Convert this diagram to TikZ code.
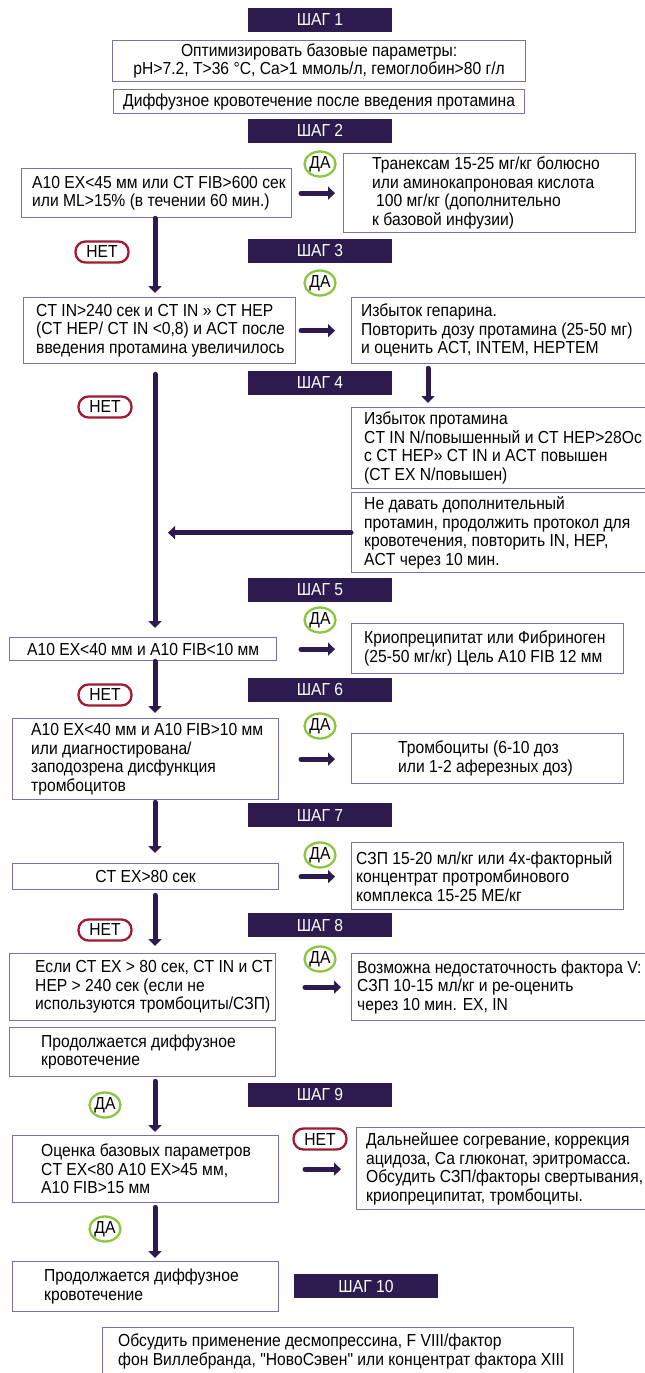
\documentclass[tikz,border=0pt]{standalone}
\usepackage{fontspec}
\newfontfamily\shrift[FakeStretch=0.9]{Liberation Sans}
\usepackage{xcolor}
\usetikzlibrary{arrows.meta,shapes.geometric}

\definecolor{shag}{HTML}{2D1B50}
\definecolor{ramka}{HTML}{7D6FAE}
\definecolor{zel}{HTML}{8CC540}
\definecolor{kras}{HTML}{A21A31}

\begin{document}
\begin{tikzpicture}[x=1pt, y=-1pt,
    every node/.append style={font=\shrift\fontsize{17.4}{18.5}\selectfont},
    shagbox/.style={fill=shag, text=white, minimum width=144pt, minimum height=24pt, inner sep=0pt},
    blok/.style 2 args={draw=ramka, line width=1.3pt, anchor=north west, minimum width=#1pt, minimum height=#2pt, inner sep=0pt, align=center},
    tekst/.style={anchor=west, xshift=#1pt, align=left, inner sep=0pt},
    da/.style={ellipse, draw=zel, line width=2.3pt, minimum width=31pt, minimum height=25pt, inner sep=0pt},
    net/.style={draw=kras, line width=2.3pt, rounded corners=10pt, minimum width=53pt, minimum height=21pt, inner sep=0pt},
    strelka/.style={draw=shag, line width=5pt, line cap=round, -{Triangle[width=13pt,length=7pt]}}]

    \useasboundingbox (0,0) rectangle (645,1373);
    \fill[white] (0,0) rectangle (645,1373);

    % шаги
    \node (shag1) [shagbox] at (320,19.5) {ШАГ 1};
    \node (shag2) [shagbox] at (320,130.5) {ШАГ 2};
    \node (shag3) [shagbox] at (320,251) {ШАГ 3};
    \node (shag4) [shagbox] at (320,382.5) {ШАГ 4};
    \node (shag5) [shagbox] at (320,589.5) {ШАГ 5};
    \node (shag6) [shagbox] at (320,690) {ШАГ 6};
    \node (shag7) [shagbox] at (320,815) {ШАГ 7};
    \node (shag8) [shagbox] at (320,925) {ШАГ 8};
    \node (shag9) [shagbox] at (320,1094.5) {ШАГ 9};
    \node (shag10) [shagbox] at (366,1286) {ШАГ 10};

    % шаг 1
    \node (opt) [blok={413}{41}] at (112,40) {Оптимизировать базовые параметры:\\pH>7.2, T>36 °C, Ca>1 ммоль/л, гемоглобин>80 г/л};
    \node (diff) [blok={411}{24}] at (113,89) {Диффузное кровотечение после введения протамина};

    % шаг 2
    \node (s2q) [blok={270}{49}] at (21,168) {};
    \node (s2q-t) [tekst=11] at (s2q.west) {A10 EX<45 мм или CT FIB>600 сек\\или ML>15\% (в течении 60 мин.)};
    \node (s2a) [blok={292}{79}] at (343,153) {};
    \node (s2a-t) [tekst=29] at (s2a.west) {Транексам 15-25 мг/кг болюсно\\или аминокапроновая кислота\\\hspace*{4pt}100 мг/кг (дополнительно\\к базовой инфузии)};

    % шаг 3
    \node (s3q) [blok={272}{66}] at (23,297) {};
    \node (s3q-t) [tekst=13] at (s3q.west) {CT IN>240 сек и CT IN » CT HEP\\(CT HEP/ CT IN <0,8) и ACT после\\введения протамина увеличилось};
    \node (s3a) [blok={297}{66}] at (351,297) {};
    \node (s3a-t) [tekst=10] at (s3a.west) {Избыток гепарина.\\Повторить дозу протамина (25-50 мг)\\и оценить ACT, INTEM, HEPTEM};

    % шаг 4
    \node (s4a) [blok={297}{81}] at (351,407) {};
    \node (s4a-t) [tekst=13] at (s4a.west) {Избыток протамина\\CT IN N/повышенный и CT HEP>28Oс\\с CT HEP» CT IN и ACT повышен\\(CT EX N/повышен)};
    \node (s4b) [blok={297}{80}] at (351,492) {};
    \node (s4b-t) [tekst=13] at (s4b.west) {Не давать дополнительный\\протамин, продолжить протокол для\\кровотечения, повторить IN, HEP,\\ACT через 10 мин.};

    % шаг 5
    \node (s5q) [blok={267}{23}] at (9,637) {A10 EX<40 мм и A10 FIB<10 мм};
    \node (s5a) [blok={272}{50}] at (351,623) {};
    \node (s5a-t) [tekst=13] at (s5a.west) {Криопреципитат или Фибриноген\\(25-50 мг/кг) Цель A10 FIB 12 мм};

    % шаг 6
    \node (s6q) [blok={266}{81}] at (12,718) {};
    \node (s6q-t) [tekst=19] at (s6q.west) {A10 EX<40 мм и A10 FIB>10 мм\\или диагностирована/\\заподозрена дисфункция\\тромбоцитов};
    \node (s6a) [blok={272}{50}] at (351,733) {};
    \node (s6a-t) [tekst=47] at (s6a.west) {Тромбоциты (6-10 доз\\или 1-2 аферезных доз)};

    % шаг 7
    \node (s7q) [blok={266}{26}] at (12,863) {CT EX>80 сек};
    \node (s7a) [blok={272}{67}] at (351,842) {};
    \node (s7a-t) [tekst=5] at (s7a.west) {СЗП 15-20 мл/кг или 4х-факторный\\концентрат протромбинового\\комплекса 15-25 МЕ/кг};

    % шаг 8
    \node (s8q) [blok={266}{67}] at (9,953) {};
    \node (s8q-t) [tekst=26] at (s8q.west) {Если CT EX > 80 сек, CT IN и CT\\HEP > 240 сек (если не\\используются тромбоциты/СЗП)};
    \node (s8a) [blok={297}{67}] at (351,953) {};
    \node (s8a-t) [tekst=6] at (s8a.west) {Возможна недостаточность фактора V:\\СЗП 10-15 мл/кг и ре-оценить\\через 10 мин. EX, IN};
    \node (s8b) [blok={266}{49}] at (9,1027) {};
    \node (s8b-t) [tekst=32] at (s8b.west) {Продолжается диффузное\\кровотечение};

    % шаг 9
    \node (s9q) [blok={266}{67}] at (12,1135) {};
    \node (s9q-t) [tekst=29] at (s9q.west) {Оценка базовых параметров\\CT EX<80 A10 EX>45 мм,\\A10 FIB>15 мм};
    \node (s9a) [blok={292}{82}] at (356,1127) {};
    \node (s9a-t) [tekst=10] at (s9a.west) {Дальнейшее согревание, коррекция\\ацидоза, Са глюконат, эритромасса.\\Обсудить СЗП/факторы свертывания,\\криопреципитат, тромбоциты.};

    % шаг 10
    \node (s10q) [blok={266}{50}] at (12,1261) {};
    \node (s10q-t) [tekst=32] at (s10q.west) {Продолжается диффузное\\кровотечение};
    \node (s10a) [blok={471}{62}] at (102,1327) {};
    \node (s10a-t) [tekst=16, anchor=north west] at ([yshift=-7pt]s10a.north west) {Обсудить применение десмопрессина, F VIII/фактор\\фон Виллебранда, "НовоСэвен" или концентрат фактора XIII};

    % да / нет
    \node (da2) [da] at (320,164) {ДА};
    \node (da3) [da] at (320,283) {ДА};
    \node (da5) [da] at (320,620) {ДА};
    \node (da6) [da] at (320,726) {ДА};
    \node (da7) [da] at (320,855) {ДА};
    \node (da8) [da] at (320,959) {ДА};
    \node (da9) [da] at (105,1105) {ДА};
    \node (da10) [da] at (105,1229) {ДА};
    \node (net2) [net] at (102,252) {НЕТ};
    \node (net3) [net] at (105,407) {НЕТ};
    \node (net5) [net] at (105,695) {НЕТ};
    \node (net7) [net] at (105,930) {НЕТ};
    \node (net9) [net] at (320,1139) {НЕТ};

    % стрелки
    \coordinate (spine) at (155,0);
    \coordinate (spineR) at (428,0);
    \coordinate (strL) at (301,0);
    \coordinate (strR) at (335,0);
    \coordinate (strL2) at (305,0);
    \coordinate (strR2) at (341,0);

    \draw[strelka, shorten >=4pt] (s2q.south -| spine) -- (s3q.north -| spine);
    \draw[strelka, shorten <=10pt, shorten >=9pt] (s3q.south -| spine) -- (s5q.north -| spine);
    \draw[strelka, shorten >=5pt] (s5q.south -| spine) -- (s6q.north -| spine);
    \draw[strelka, shorten <=2pt, shorten >=10pt] (s6q.south -| spine) -- (s7q.north -| spine);
    \draw[strelka, shorten <=5pt, shorten >=7pt] (s7q.south -| spine) -- (s8q.north -| spine);
    \draw[strelka, shorten <=4pt, shorten >=3pt] (s8b.south -| spine) -- (s9q.north -| spine);
    \draw[strelka, shorten <=4pt, shorten >=3pt] (s9q.south -| spine) -- (s10q.north -| spine);
    \draw[strelka, shorten <=4pt, shorten >=4pt] (s3a.south -| spineR) -- (s4a.north -| spineR);
    \draw[strelka, shorten >=13pt] (s4b.west) -- (s4b.west -| spine);

    \draw[strelka] (s2q -| strL) -- (s2q -| strR);
    \draw[strelka] (s3q -| strL) -- (s3q -| strR);
    \draw[strelka] (s5q -| strL) -- (s5q -| strR);
    \draw[strelka] (s6q -| strL) -- (s6q -| strR);
    \draw[strelka] (s7q -| strL) -- (s7q -| strR);
    \draw[strelka] (s8q -| strL2) -- (s8q -| strR2);
    \draw[strelka] (s9q -| strL2) -- (s9q -| strR2);

\end{tikzpicture}
\end{document}
